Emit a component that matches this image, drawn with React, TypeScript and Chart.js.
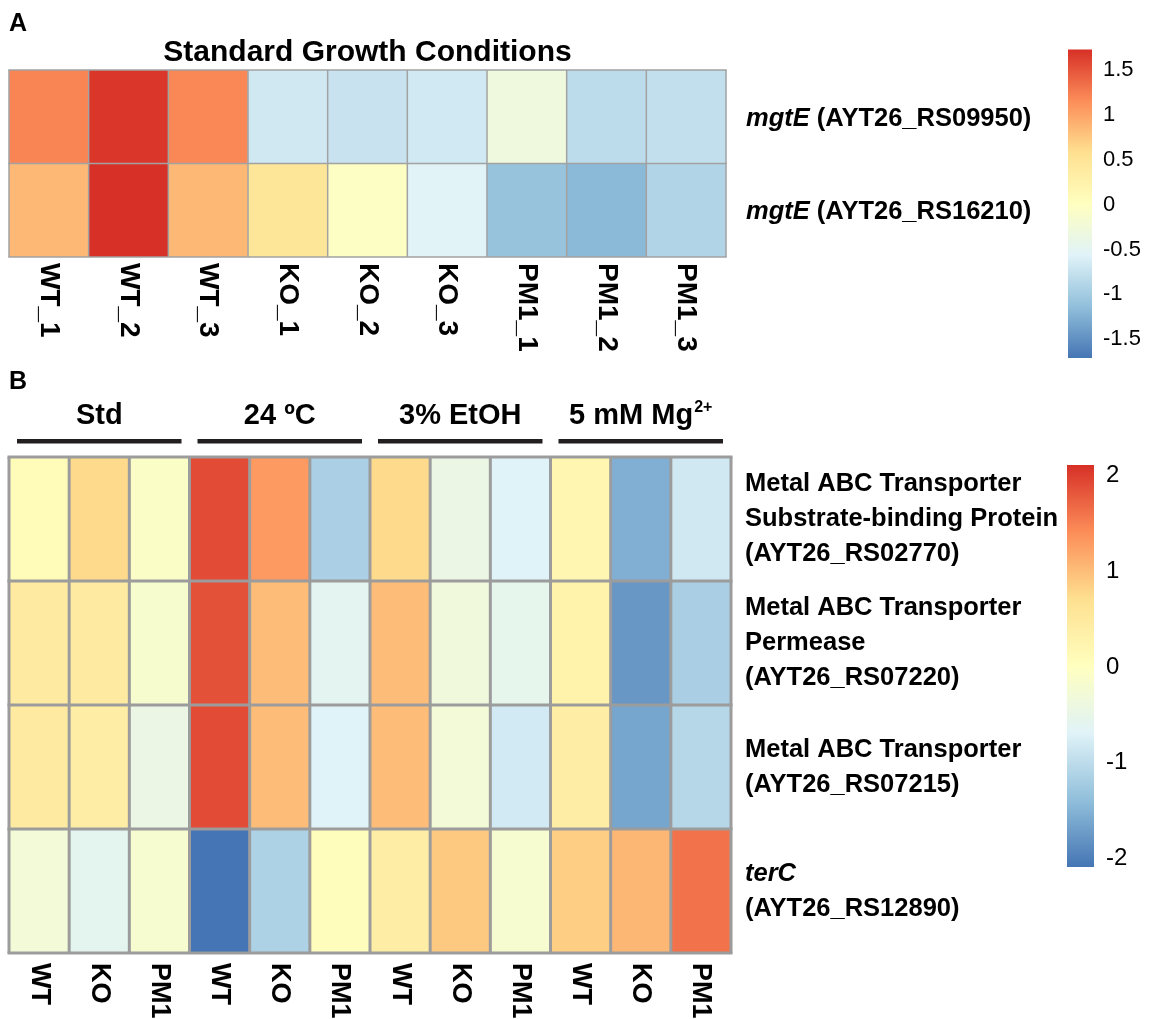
import React, { useEffect, useRef } from "react";
import { Chart, registerables } from "chart.js";

Chart.register(...registerables);

// ---------------- Panel A data ----------------
const PANEL_A_LETTER = "A";
const TITLE_A = "Standard Growth Conditions";
const COLUMNS_A = ["WT_1", "WT_2", "WT_3", "KO_1", "KO_2", "KO_3", "PM1_1", "PM1_2", "PM1_3"];
const GENES_A = ["mgtE", "mgtE"];
const IDS_A = ["(AYT26_RS09950)", "(AYT26_RS16210)"];
const ROW_A1 = [1.2, 1.68, 1.18, -0.69, -0.75, -0.68, -0.3, -0.83, -0.79];
const ROW_A2 = [0.85, 1.72, 0.85, 0.46, -0.05, -0.55, -1.1, -1.19, -0.91];
const LEGEND_TICKS_A = [1.5, 1, 0.5, 0, -0.5, -1, -1.5];
const LEGEND_LIMIT_A = 1.72;

// ---------------- Panel B data ----------------
const PANEL_B_LETTER = "B";
const COLUMNS_B = ["WT", "KO", "PM1", "WT", "KO", "PM1", "WT", "KO", "PM1", "WT", "KO", "PM1"];
const GROUPS_B = ["Std", "24 ºC", "3% EtOH", "5 mM Mg"];
const GROUP_SUPERSCRIPTS_B = ["", "", "", "2+"];
const ROW_LABELS_B = [
  ["Metal ABC Transporter", "Substrate-binding Protein", "(AYT26_RS02770)"],
  ["Metal ABC Transporter", "Permease", "(AYT26_RS07220)"],
  ["Metal ABC Transporter", "(AYT26_RS07215)"],
  ["terC", "(AYT26_RS12890)"],
];
const ROW_ITALIC_FIRST_B = [false, false, false, true];
const ROW_B1 = [0.1, 0.75, -0.1, 1.9, 1.29, -1.17, 0.75, -0.45, -0.7, 0.2, -1.55, -0.85];
const ROW_B2 = [0.45, 0.45, -0.18, 1.85, 1.0, -0.62, 1.0, -0.35, -0.55, 0.28, -1.78, -1.18];
const ROW_B3 = [0.45, 0.4, -0.45, 1.9, 1.0, -0.7, 1.0, -0.3, -0.82, 0.38, -1.65, -1.08];
const ROW_B4 = [-0.3, -0.6, -0.2, -2.1, -1.15, 0.05, 0.4, 0.9, -0.2, 0.85, 1.05, 1.6];
const LEGEND_TICKS_B = [2, 1, 0, -1, -2];
const LEGEND_LIMIT_B = 2.1;

// RdYlBu (reversed) palette
const PALETTE = ["#4575B4", "#91BFDB", "#E0F3F8", "#FFFFBF", "#FEE090", "#FC8D59", "#D73027"];

const FONT = "'Liberation Sans', Arial, Helvetica, sans-serif";

function hexToRgb(h: string) {
  const n = parseInt(h.slice(1), 16);
  return [(n >> 16) & 255, (n >> 8) & 255, n & 255];
}

function colorFor(v: number, limit: number) {
  let t = (v + limit) / (2 * limit);
  t = Math.max(0, Math.min(1, t));
  const pos = t * (PALETTE.length - 1);
  const i = Math.min(PALETTE.length - 2, Math.floor(pos));
  const f = pos - i;
  const a = hexToRgb(PALETTE[i]);
  const b = hexToRgb(PALETTE[i + 1]);
  const c = a.map((x, k) => Math.round(x + (b[k] - x) * f));
  return `rgb(${c[0]},${c[1]},${c[2]})`;
}

function makeDatasets(rows: number[][], limit: number) {
  return rows.map((row, r) => ({
    label: "row" + r,
    data: row.map(() => 1),
    backgroundColor: row.map((v) => colorFor(v, limit)),
    borderWidth: 0,
    barPercentage: 1,
    categoryPercentage: 1,
    stack: "heat",
  }));
}

function drawGrid(chart: any, nCols: number, nRows: number, color: string, width: number) {
  const ctx = chart.ctx;
  const x = chart.scales.x;
  const y = chart.scales.y;
  const half = (x.getPixelForValue(1) - x.getPixelForValue(0)) / 2;
  const left = x.getPixelForValue(0) - half;
  const right = x.getPixelForValue(nCols - 1) + half;
  const top = y.getPixelForValue(0);
  const bottom = y.getPixelForValue(nRows);
  ctx.save();
  ctx.strokeStyle = color;
  ctx.lineWidth = width;
  for (let i = 0; i <= nCols; i++) {
    const px = i === 0 ? left : i === nCols ? right : x.getPixelForValue(i) - half;
    ctx.beginPath();
    ctx.moveTo(px, top);
    ctx.lineTo(px, bottom);
    ctx.stroke();
  }
  for (let r = 0; r <= nRows; r++) {
    const py = y.getPixelForValue(r);
    ctx.beginPath();
    ctx.moveTo(left - width / 2, py);
    ctx.lineTo(right + width / 2, py);
    ctx.stroke();
  }
  ctx.restore();
}

function drawColumnLabels(chart: any, labels: string[], gap: number, size: number) {
  const ctx = chart.ctx;
  const x = chart.scales.x;
  const y = chart.scales.y;
  const y0 = y.getPixelForValue(y.max) + gap;
  ctx.save();
  ctx.fillStyle = "#000";
  ctx.font = `bold ${size}px ${FONT}`;
  labels.forEach((lab, i) => {
    ctx.save();
    ctx.translate(x.getPixelForValue(i), y0);
    ctx.rotate(Math.PI / 2);
    ctx.textAlign = "left";
    ctx.textBaseline = "middle";
    ctx.fillText(lab, 0, 0);
    ctx.restore();
  });
  ctx.restore();
}

function drawLegend(
  ctx: CanvasRenderingContext2D,
  x0: number,
  w: number,
  top: number,
  bottom: number,
  limit: number,
  ticks: number[],
  labelX: number,
  size: number
) {
  const g = ctx.createLinearGradient(0, bottom, 0, top);
  PALETTE.forEach((c, i) => g.addColorStop(i / (PALETTE.length - 1), c));
  ctx.save();
  ctx.fillStyle = g;
  ctx.fillRect(x0, top, w, bottom - top);
  ctx.fillStyle = "#000";
  ctx.font = `${size}px ${FONT}`;
  ctx.textAlign = "left";
  ctx.textBaseline = "middle";
  ticks.forEach((t) => {
    const py = top + ((limit - t) / (2 * limit)) * (bottom - top);
    ctx.fillText(String(t), labelX, py + 1);
  });
  ctx.restore();
}

const W = 1151;
const HA = 370;
const HB = 649;

export default function App() {
  const refA = useRef<HTMLCanvasElement>(null);
  const refB = useRef<HTMLCanvasElement>(null);

  useEffect(() => {
    const rowsA = [ROW_A1, ROW_A2];
    const pluginA = {
      id: "panelA",
      afterDraw(chart: any) {
        const ctx = chart.ctx;
        const area = chart.chartArea;
        const y = chart.scales.y;
        drawGrid(chart, COLUMNS_A.length, rowsA.length, "#a2a2a2", 1.5);
        ctx.save();
        ctx.fillStyle = "#000";
        ctx.font = `bold 25px ${FONT}`;
        ctx.textAlign = "left";
        ctx.textBaseline = "alphabetic";
        ctx.fillText(PANEL_A_LETTER, 9, 31);
        ctx.font = `bold 30px ${FONT}`;
        ctx.textAlign = "center";
        ctx.fillText(TITLE_A, (area.left + area.right) / 2, 61);
        // row labels
        ctx.textAlign = "left";
        ctx.textBaseline = "middle";
        GENES_A.forEach((gene, r) => {
          const cy = y.getPixelForValue(r + 0.5) + 2;
          const lx = area.right + 20;
          ctx.font = `italic bold 25.5px ${FONT}`;
          ctx.fillText(gene, lx, cy);
          const gw = ctx.measureText(gene).width;
          ctx.font = `bold 25.5px ${FONT}`;
          ctx.fillText(" " + IDS_A[r], lx + gw, cy);
        });
        ctx.restore();
        drawColumnLabels(chart, COLUMNS_A, 6, 28);
        drawLegend(ctx, 1068, 24, 49.5, 358, LEGEND_LIMIT_A, LEGEND_TICKS_A, 1103, 22);
      },
    };

    const chartA = new Chart(refA.current as HTMLCanvasElement, {
      type: "bar",
      data: { labels: COLUMNS_A, datasets: makeDatasets(rowsA, LEGEND_LIMIT_A) as any },
      options: {
        responsive: false,
        animation: false,
        events: [],
        layout: { padding: { left: 9, right: W - 726, top: 70, bottom: HA - 257 } },
        plugins: { legend: { display: false }, tooltip: { enabled: false } },
        scales: {
          x: { type: "category", display: false, stacked: true, offset: true },
          y: { type: "linear", display: false, stacked: true, min: 0, max: rowsA.length, reverse: true },
        },
      },
      plugins: [pluginA],
    });

    const rowsB = [ROW_B1, ROW_B2, ROW_B3, ROW_B4];
    const pluginB = {
      id: "panelB",
      afterDraw(chart: any) {
        const ctx = chart.ctx;
        const area = chart.chartArea;
        const x = chart.scales.x;
        const y = chart.scales.y;
        drawGrid(chart, COLUMNS_B.length, rowsB.length, "#9c9c9c", 3);
        ctx.save();
        ctx.fillStyle = "#000";
        ctx.font = `bold 25px ${FONT}`;
        ctx.textAlign = "left";
        ctx.textBaseline = "alphabetic";
        ctx.fillText(PANEL_B_LETTER, 9, 19);
        // group headers
        const half = (x.getPixelForValue(1) - x.getPixelForValue(0)) / 2;
        const per = COLUMNS_B.length / GROUPS_B.length;
        GROUPS_B.forEach((g, gi) => {
          const l = x.getPixelForValue(gi * per) - half + 8;
          const rgt = x.getPixelForValue(gi * per + per - 1) + half - 8;
          ctx.fillStyle = "#231f20";
          ctx.fillRect(l, 69, rgt - l, 4.5);
          ctx.fillStyle = "#000";
          const cx = (l + rgt) / 2;
          ctx.font = `bold 29px ${FONT}`;
          const w1 = ctx.measureText(g).width;
          const sup = GROUP_SUPERSCRIPTS_B[gi];
          let w2 = 0;
          if (sup) {
            ctx.font = `bold 16px ${FONT}`;
            w2 = ctx.measureText(sup).width + 1;
          }
          const sx = cx - (w1 + w2) / 2;
          ctx.font = `bold 29px ${FONT}`;
          ctx.textAlign = "left";
          ctx.fillText(g, sx, 54);
          if (sup) {
            ctx.font = `bold 16px ${FONT}`;
            ctx.fillText(sup, sx + w1 + 1, 42);
          }
        });
        // row labels
        const lineH = 35;
        ctx.textBaseline = "middle";
        ROW_LABELS_B.forEach((lines, r) => {
          const cy = y.getPixelForValue(r + 0.5);
          const start = cy - ((lines.length - 1) * lineH) / 2;
          lines.forEach((ln, k) => {
            const italic = k === 0 && ROW_ITALIC_FIRST_B[r];
            ctx.font = `${italic ? "italic " : ""}bold 25.5px ${FONT}`;
            ctx.fillText(ln, area.right + 14, start + k * lineH);
          });
        });
        ctx.restore();
        drawColumnLabels(chart, COLUMNS_B, 10, 27);
        drawLegend(ctx, 1067, 27, 95, 497, LEGEND_LIMIT_B, LEGEND_TICKS_B, 1106, 24);
      },
    };

    const chartB = new Chart(refB.current as HTMLCanvasElement, {
      type: "bar",
      data: { labels: COLUMNS_B.map((c, i) => c + "_" + i), datasets: makeDatasets(rowsB, LEGEND_LIMIT_B) as any },
      options: {
        responsive: false,
        animation: false,
        events: [],
        layout: { padding: { left: 9, right: W - 731, top: 87, bottom: HB - 583 } },
        plugins: { legend: { display: false }, tooltip: { enabled: false } },
        scales: {
          x: { type: "category", display: false, stacked: true, offset: true },
          y: { type: "linear", display: false, stacked: true, min: 0, max: rowsB.length, reverse: true },
        },
      },
      plugins: [pluginB],
    });

    return () => {
      chartA.destroy();
      chartB.destroy();
    };
  }, []);

  return (
    <div style={{ position: "absolute", left: 0, top: 0, width: W, height: HA + HB, background: "#fff" }}>
      <canvas ref={refA} width={W} height={HA} style={{ position: "absolute", left: 0, top: 0 }} />
      <canvas ref={refB} width={W} height={HB} style={{ position: "absolute", left: 0, top: HA }} />
    </div>
  );
}
